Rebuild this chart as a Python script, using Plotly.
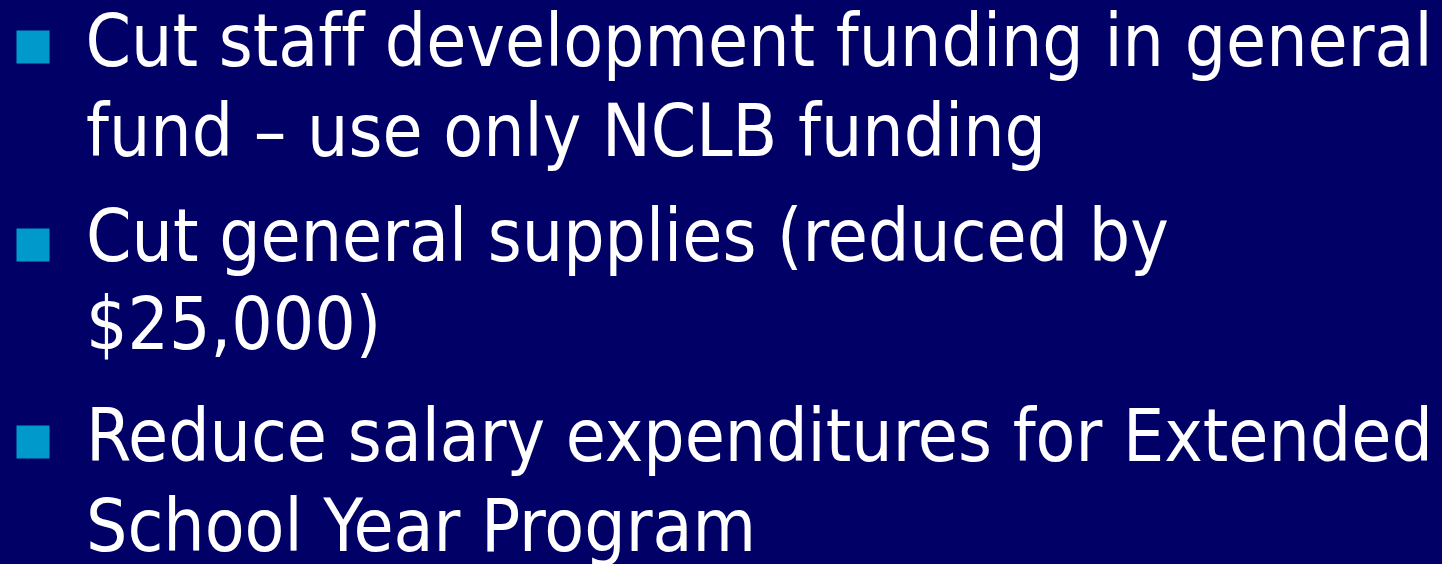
import plotly.graph_objects as go

# Slide content
bullet_lines = [
    ["Cut staff development funding in general", "fund \u2013 use only NCLB funding"],
    ["Cut general supplies (reduced by", "$25,000)"],
    ["Reduce salary expenditures for Extended", "School Year Program"],
]
# baselines (pixel rows) of each text line
line_baselines = [[67, 157], [262, 350], [462, 552]]
bullet_centers = [47, 245, 442]

W, H = 1442, 564
BG = "#000066"
BULLET = "#0099CC"
FONT = "DejaVu Sans Condensed"
SIZE = 72.5

fig = go.Figure()
fig.add_trace(go.Scatter(
    x=[33] * len(bullet_centers), y=bullet_centers, mode="markers",
    marker=dict(symbol="square", size=33, color=BULLET, line=dict(width=0)),
    hoverinfo="skip", showlegend=False,
))

annotations = []
for lines, bases in zip(bullet_lines, line_baselines):
    for txt, b in zip(lines, bases):
        annotations.append(dict(
            x=84, y=b, xref="x", yref="y", text=txt, showarrow=False,
            xanchor="left", yanchor="bottom", yshift=-18,
            font=dict(family=FONT, size=SIZE, color="white"),
        ))

fig.update_layout(
    width=W, height=H, margin=dict(l=0, r=0, t=0, b=0),
    paper_bgcolor=BG, plot_bgcolor=BG,
    xaxis=dict(range=[0, W], visible=False, fixedrange=True),
    yaxis=dict(range=[H, 0], visible=False, fixedrange=True),
    annotations=annotations,
)
fig.write_html(
    "out.html",
    config={"displayModeBar": False},
    post_script=(
        "document.body.style.margin='0';document.body.style.overflow='hidden';"
        "document.body.style.background='" + BG + "';"
        "var s=document.createElement('style');"
        "s.textContent='text{font-variant-ligatures:none !important;}';"
        "document.head.appendChild(s);"
    ),
)
